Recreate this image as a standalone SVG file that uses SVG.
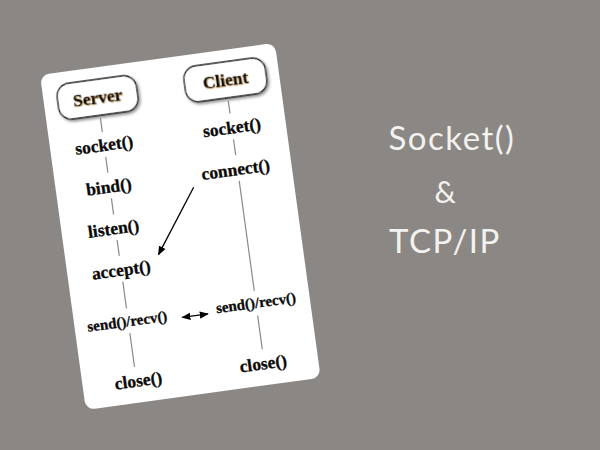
<svg xmlns="http://www.w3.org/2000/svg" width="600" height="450" viewBox="0 0 600 450">
<defs>
<filter id="sh" x="-20%" y="-20%" width="140%" height="150%"><feDropShadow dx="1.5" dy="2" stdDeviation="1.5" flood-color="#000" flood-opacity="0.45"/></filter>
<filter id="tsh" x="-10%" y="-10%" width="120%" height="140%"><feDropShadow dx="0.6" dy="0.8" stdDeviation="0.4" flood-color="#b07a20" flood-opacity="0.6"/></filter>
<marker id="ah" viewBox="0 0 10 10" refX="9" refY="5" markerWidth="7" markerHeight="7" orient="auto-start-reverse"><path d="M0,1 L10,5 L0,9 Z" fill="#000"/></marker>
</defs>
<style>
.t{font-family:"Liberation Serif","Times New Roman",serif;font-weight:bold;font-size:17.5px;fill:#0a0a0a;stroke:#0a0a0a;stroke-width:0.3;text-anchor:middle}
.s{font-size:15px}
.box{fill:#fff;stroke:#222;stroke-width:1.3}
.life{stroke:#8a8a8a;stroke-width:1.2}
.arr{stroke:#000;stroke-width:1.3;fill:none}
.h{font-family:"Lato","Open Sans",sans-serif;font-weight:400;fill:#f3f2ef;text-anchor:middle;letter-spacing:1.5px}
</style>
<rect width="600" height="450" fill="#8b8784"/>
<g transform="translate(40,75) rotate(-7.8)">
<rect id="card" x="0" y="0" width="237" height="338" rx="9" fill="#fff"/>
<g id="server"><rect class="box" x="14" y="12" width="80" height="36" rx="13" filter="url(#sh)"/><text class="t" x="54" y="36" filter="url(#tsh)">Server</text></g>
<g id="client"><rect class="box" x="142" y="12" width="82" height="36" rx="13" filter="url(#sh)"/><text class="t" x="183" y="36" filter="url(#tsh)">Client</text></g>
<g id="s-socket"><text class="t" x="54" y="84">socket()</text></g>
<g id="s-bind"><text class="t" x="53" y="126">bind()</text></g>
<g id="s-listen"><text class="t" x="52" y="168">listen()</text></g>
<g id="s-accept"><text class="t" x="54" y="210">accept()</text></g>
<g id="s-sendrecv"><text class="t s" x="53" y="261">send()/recv()</text></g>
<g id="s-close"><text class="t" x="56" y="322">close()</text></g>
<g id="c-socket"><text class="t" x="183" y="84">socket()</text></g>
<g id="c-connect"><text class="t" x="181" y="126">connect()</text></g>
<g id="c-sendrecv"><text class="t s" x="183" y="260">send()/recv()</text></g>
<g id="c-close"><text class="t" x="182" y="322">close()</text></g>
<g id="connectors">
<line class="life" x1="54" y1="51" x2="54" y2="65"/>
<line class="life" x1="54" y1="90" x2="54" y2="106"/>
<line class="life" x1="54" y1="132" x2="54" y2="148"/>
<line class="life" x1="54" y1="174" x2="54" y2="190"/>
<line class="life" x1="54" y1="216" x2="54" y2="243"/>
<line class="life" x1="54" y1="268" x2="54" y2="302"/>
<line class="life" x1="183" y1="51" x2="183" y2="64"/>
<line class="life" x1="183" y1="90" x2="183" y2="106"/>
<line class="life" x1="183" y1="132" x2="183" y2="243"/>
<line class="life" x1="183" y1="268" x2="183" y2="302"/>
<line class="arr" x1="137" y1="132" x2="93" y2="194" marker-end="url(#ah)"/>
<line class="arr" x1="108" y1="259.5" x2="134" y2="259.5" marker-start="url(#ah)" marker-end="url(#ah)"/>
</g>
</g>
<g id="title">
<text class="h" x="452" y="150" font-size="33">Socket()</text>
<text class="h" x="446" y="203" font-size="30">&amp;</text>
<text class="h" x="445" y="253" font-size="33">TCP/IP</text>
</g>
</svg>
